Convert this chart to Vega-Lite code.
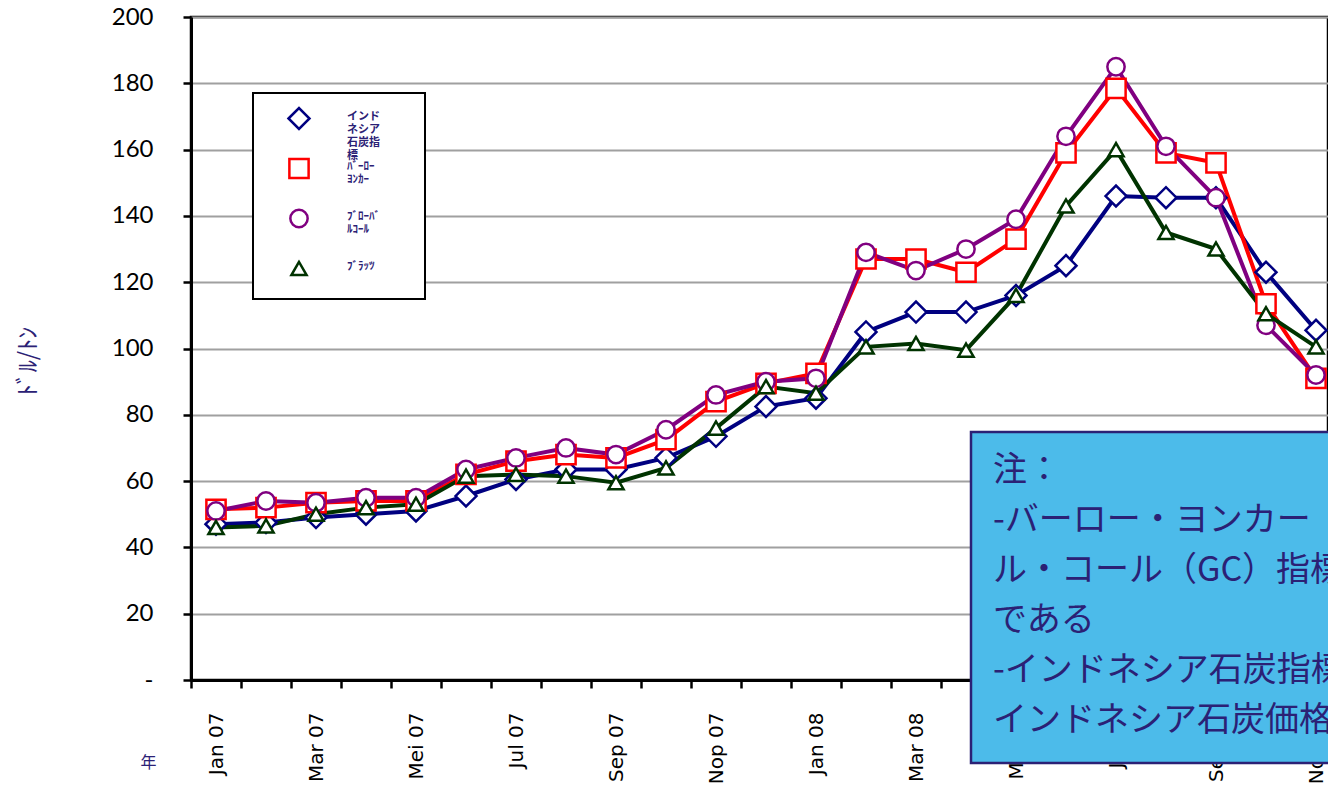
{
  "$schema": "https://vega.github.io/schema/vega-lite/v6.json",
  "width": 1137,
  "height": 663,
  "autosize": {"type": "none"},
  "padding": {"left": 191, "top": 17, "right": 0, "bottom": 116},
  "background": "white",
  "config": {"view": {"stroke": "black", "strokeWidth": 2.5}},
  "datasets": {
    "prices": [
      {"m": "Jan 07", "インドネシア石炭指標": 47, "ﾊﾞｰﾛｰﾖﾝｶｰ": 51.5, "ﾌﾞﾛｰﾊﾞﾙｺｰﾙ": 51, "ﾌﾞﾗｯﾂ": 46},
      {"m": "Feb 07", "インドネシア石炭指標": 47.5, "ﾊﾞｰﾛｰﾖﾝｶｰ": 52, "ﾌﾞﾛｰﾊﾞﾙｺｰﾙ": 54, "ﾌﾞﾗｯﾂ": 46.5},
      {"m": "Mar 07", "インドネシア石炭指標": 49, "ﾊﾞｰﾛｰﾖﾝｶｰ": 53.5, "ﾌﾞﾛｰﾊﾞﾙｺｰﾙ": 53.5, "ﾌﾞﾗｯﾂ": 50},
      {"m": "Apr 07", "インドネシア石炭指標": 50, "ﾊﾞｰﾛｰﾖﾝｶｰ": 54, "ﾌﾞﾛｰﾊﾞﾙｺｰﾙ": 55, "ﾌﾞﾗｯﾂ": 52},
      {"m": "Mei 07", "インドネシア石炭指標": 51, "ﾊﾞｰﾛｰﾖﾝｶｰ": 54, "ﾌﾞﾛｰﾊﾞﾙｺｰﾙ": 55, "ﾌﾞﾗｯﾂ": 53},
      {"m": "Jun 07", "インドネシア石炭指標": 55.5, "ﾊﾞｰﾛｰﾖﾝｶｰ": 62, "ﾌﾞﾛｰﾊﾞﾙｺｰﾙ": 63.5, "ﾌﾞﾗｯﾂ": 61.5},
      {"m": "Jul 07", "インドネシア石炭指標": 60.5, "ﾊﾞｰﾛｰﾖﾝｶｰ": 66, "ﾌﾞﾛｰﾊﾞﾙｺｰﾙ": 67, "ﾌﾞﾗｯﾂ": 62},
      {"m": "Agu 07", "インドネシア石炭指標": 63.5, "ﾊﾞｰﾛｰﾖﾝｶｰ": 68, "ﾌﾞﾛｰﾊﾞﾙｺｰﾙ": 70, "ﾌﾞﾗｯﾂ": 61.5},
      {"m": "Sep 07", "インドネシア石炭指標": 63.5, "ﾊﾞｰﾛｰﾖﾝｶｰ": 67, "ﾌﾞﾛｰﾊﾞﾙｺｰﾙ": 68, "ﾌﾞﾗｯﾂ": 59.5},
      {"m": "Okt 07", "インドネシア石炭指標": 67, "ﾊﾞｰﾛｰﾖﾝｶｰ": 72.5, "ﾌﾞﾛｰﾊﾞﾙｺｰﾙ": 75.5, "ﾌﾞﾗｯﾂ": 64},
      {"m": "Nop 07", "インドネシア石炭指標": 73.5, "ﾊﾞｰﾛｰﾖﾝｶｰ": 84, "ﾌﾞﾛｰﾊﾞﾙｺｰﾙ": 86, "ﾌﾞﾗｯﾂ": 76},
      {"m": "Des 07", "インドネシア石炭指標": 82.5, "ﾊﾞｰﾛｰﾖﾝｶｰ": 89.5, "ﾌﾞﾛｰﾊﾞﾙｺｰﾙ": 90, "ﾌﾞﾗｯﾂ": 88.5},
      {"m": "Jan 08", "インドネシア石炭指標": 85, "ﾊﾞｰﾛｰﾖﾝｶｰ": 92.5, "ﾌﾞﾛｰﾊﾞﾙｺｰﾙ": 91, "ﾌﾞﾗｯﾂ": 86.5},
      {"m": "Feb 08", "インドネシア石炭指標": 105, "ﾊﾞｰﾛｰﾖﾝｶｰ": 127, "ﾌﾞﾛｰﾊﾞﾙｺｰﾙ": 129, "ﾌﾞﾗｯﾂ": 100.5},
      {"m": "Mar 08", "インドネシア石炭指標": 111, "ﾊﾞｰﾛｰﾖﾝｶｰ": 127, "ﾌﾞﾛｰﾊﾞﾙｺｰﾙ": 123.5, "ﾌﾞﾗｯﾂ": 101.5},
      {"m": "Apr 08", "インドネシア石炭指標": 111, "ﾊﾞｰﾛｰﾖﾝｶｰ": 123, "ﾌﾞﾛｰﾊﾞﾙｺｰﾙ": 130, "ﾌﾞﾗｯﾂ": 99.5},
      {"m": "Mei 08", "インドネシア石炭指標": 116, "ﾊﾞｰﾛｰﾖﾝｶｰ": 133, "ﾌﾞﾛｰﾊﾞﾙｺｰﾙ": 139, "ﾌﾞﾗｯﾂ": 116},
      {"m": "Jun 08", "インドネシア石炭指標": 125, "ﾊﾞｰﾛｰﾖﾝｶｰ": 159, "ﾌﾞﾛｰﾊﾞﾙｺｰﾙ": 164, "ﾌﾞﾗｯﾂ": 143},
      {"m": "Jul 08", "インドネシア石炭指標": 146, "ﾊﾞｰﾛｰﾖﾝｶｰ": 178.5, "ﾌﾞﾛｰﾊﾞﾙｺｰﾙ": 185, "ﾌﾞﾗｯﾂ": 160},
      {"m": "Agu 08", "インドネシア石炭指標": 145.5, "ﾊﾞｰﾛｰﾖﾝｶｰ": 159, "ﾌﾞﾛｰﾊﾞﾙｺｰﾙ": 161, "ﾌﾞﾗｯﾂ": 135},
      {"m": "Sep 08", "インドネシア石炭指標": 145.5, "ﾊﾞｰﾛｰﾖﾝｶｰ": 156, "ﾌﾞﾛｰﾊﾞﾙｺｰﾙ": 145.5, "ﾌﾞﾗｯﾂ": 130},
      {"m": "Okt 08", "インドネシア石炭指標": 123, "ﾊﾞｰﾛｰﾖﾝｶｰ": 113.5, "ﾌﾞﾛｰﾊﾞﾙｺｰﾙ": 107, "ﾌﾞﾗｯﾂ": 110.5},
      {"m": "Nop 08", "インドネシア石炭指標": 105.5, "ﾊﾞｰﾛｰﾖﾝｶｰ": 91, "ﾌﾞﾛｰﾊﾞﾙｺｰﾙ": 92, "ﾌﾞﾗｯﾂ": 100.5}
    ],
    "note": [
      {"x": "Apr 08", "x2": "Nop 08", "y": 74.8, "y2": -25, "tx": "Mei 08", "ty": 68.2,
       "lines": ["注：", "-バーロー・ヨンカー（BJ）指標とグローバ", "ル・コール（GC）指標は豪州炭の価格指標", "である", "-インドネシア石炭指標（ICI）は", "インドネシア石炭価格指数である"]}
    ]
  },
  "layer": [
    {
      "data": {"name": "prices"},
      "transform": [{"fold": ["インドネシア石炭指標", "ﾊﾞｰﾛｰﾖﾝｶｰ", "ﾌﾞﾛｰﾊﾞﾙｺｰﾙ", "ﾌﾞﾗｯﾂ"], "as": ["series", "value"]}],
      "mark": {"type": "line", "strokeWidth": 4},
      "encoding": {
        "x": {
          "field": "m", "type": "ordinal",
          "scale": {"type": "band", "domain": ["Jan 07", "Feb 07", "Mar 07", "Apr 07", "Mei 07", "Jun 07", "Jul 07", "Agu 07", "Sep 07", "Okt 07", "Nop 07", "Des 07", "Jan 08", "Feb 08", "Mar 08", "Apr 08", "Mei 08", "Jun 08", "Jul 08", "Agu 08", "Sep 08", "Okt 08", "Nop 08"], "range": [0, 1150], "paddingInner": 0, "paddingOuter": 0},
          "axis": {
            "title": "年", "titleX": -43, "titleY": 82, "titleAngle": 0, "titleAlign": "center", "titleBaseline": "middle",
            "titleFont": "Noto Sans CJK JP", "titleFontSize": 16, "titleColor": "#2b2175", "titleFontWeight": "normal",
            "labelAngle": -90, "labelFont": "DejaVu Sans", "labelFontSize": 20, "labelColor": "black", "labelPadding": 24,
            "labelOverlap": false, "labelBound": false,
            "labelExpr": "test(/^(Feb|Apr|Jun|Agu|Okt|Des)/, datum.label) ? '' : datum.label",
            "tickSize": 8, "tickWidth": 2.5, "tickColor": "black", "tickBand": "extent",
            "domainColor": "black", "domainWidth": 3, "grid": false
          }
        },
        "y": {
          "field": "value", "type": "quantitative",
          "scale": {"domain": [0, 200]},
          "axis": {
            "values": [0, 20, 40, 60, 80, 100, 120, 140, 160, 180, 200],
            "labelExpr": "datum.value == 0 ? '-' : datum.label",
            "labelFont": "Lato", "labelFontSize": 24, "labelColor": "black", "labelPadding": 30,
            "tickSize": 8, "tickWidth": 2.5, "tickColor": "black",
            "domainColor": "black", "domainWidth": 3,
            "grid": true, "gridColor": "#a0a0a0", "gridWidth": 2,
            "title": "ﾄﾞﾙ/ﾄﾝ", "titleFont": "Noto Sans CJK JP", "titleFontSize": 24, "titleColor": "#2b2175", "titleFontWeight": "normal",
            "titleX": -163, "titleY": 344, "titleAngle": -90, "titleAlign": "center", "titleBaseline": "middle"
          }
        },
        "color": {
          "field": "series", "type": "nominal",
          "scale": {"domain": ["インドネシア石炭指標", "ﾊﾞｰﾛｰﾖﾝｶｰ", "ﾌﾞﾛｰﾊﾞﾙｺｰﾙ", "ﾌﾞﾗｯﾂ"], "range": ["#000080", "#ff0000", "#800080", "#003300"]},
          "legend": {
            "orient": "none", "legendX": 62, "legendY": 76,
            "title": "WW", "titleOrient": "right", "titleOpacity": 0, "titleFontSize": 11, "titlePadding": 6,
            "fillColor": "white", "strokeColor": "black", "padding": 18,
            "labelFont": "Noto Sans CJK JP", "labelFontSize": 11, "labelColor": "#2b2175", "labelFontWeight": "bold",
            "labelBaseline": "top", "rowPadding": -9,
            "labelExpr": "datum.label == 'インドネシア石炭指標' ? ['インド','ネシア','石炭指','標'] : datum.label == 'ﾊﾞｰﾛｰﾖﾝｶｰ' ? ['ﾊﾞｰﾛｰ','ﾖﾝｶｰ','',''] : datum.label == 'ﾌﾞﾛｰﾊﾞﾙｺｰﾙ' ? ['ﾌﾞﾛｰﾊﾞ','ﾙｺｰﾙ','',''] : datum.label",
            "encode": {
              "symbols": {"update": {
                "x": {"value": 28}, "y": {"value": 7.5},
                "fill": {"value": "white"}, "fillOpacity": {"value": 1},
                "stroke": {"scale": "color", "field": "value"}, "strokeWidth": {"value": 2.5}, "opacity": {"value": 1}
              }},
              "labels": {"update": {"x": {"value": 76}, "y": {"value": 7.5}, "dy": {"value": -7.5}, "lineHeight": {"value": 13}}},
              "legend": {"update": {"strokeWidth": {"value": 2}}}
            }
          }
        }
      }
    },
    {
      "data": {"name": "prices"},
      "transform": [{"fold": ["インドネシア石炭指標", "ﾊﾞｰﾛｰﾖﾝｶｰ", "ﾌﾞﾛｰﾊﾞﾙｺｰﾙ", "ﾌﾞﾗｯﾂ"], "as": ["s", "value"]}],
      "mark": {"type": "point", "filled": true, "fill": "white", "strokeWidth": 2.5, "opacity": 1},
      "encoding": {
        "x": {"field": "m", "type": "ordinal"},
        "y": {"field": "value", "type": "quantitative"},
        "stroke": {
          "field": "s", "type": "nominal",
          "scale": {"domain": ["インドネシア石炭指標", "ﾊﾞｰﾛｰﾖﾝｶｰ", "ﾌﾞﾛｰﾊﾞﾙｺｰﾙ", "ﾌﾞﾗｯﾂ", "_"], "range": ["#000080", "#ff0000", "#800080", "#003300", "#ffffff"]},
          "legend": null
        },
        "shape": {
          "field": "s", "type": "nominal",
          "scale": {"domain": ["インドネシア石炭指標", "ﾊﾞｰﾛｰﾖﾝｶｰ", "ﾌﾞﾛｰﾊﾞﾙｺｰﾙ", "ﾌﾞﾗｯﾂ"], "range": ["diamond", "square", "circle", "triangle-up"]},
          "legend": null
        },
        "size": {
          "field": "s", "type": "nominal",
          "scale": {"domain": ["インドネシア石炭指標", "ﾊﾞｰﾛｰﾖﾝｶｰ", "ﾌﾞﾛｰﾊﾞﾙｺｰﾙ", "ﾌﾞﾗｯﾂ"], "range": [440, 230, 420, 260]},
          "legend": null
        }
      }
    },
    {
      "data": {"name": "note"},
      "mark": {"type": "rect", "fill": "#4cbbea", "stroke": "#2b2175", "strokeWidth": 2.5},
      "encoding": {
        "x": {"field": "x", "type": "ordinal", "bandPosition": 0.6},
        "x2": {"field": "x2", "bandPosition": 1},
        "y": {"field": "y", "type": "quantitative"},
        "y2": {"field": "y2"}
      }
    },
    {
      "data": {"name": "note"},
      "mark": {"type": "text", "align": "left", "baseline": "top", "font": "Noto Sans CJK JP", "fontSize": 34, "lineHeight": 50, "color": "#2b2175"},
      "encoding": {
        "x": {"field": "tx", "type": "ordinal", "bandPosition": 0.04},
        "y": {"field": "ty", "type": "quantitative"},
        "text": {"field": "lines"}
      }
    }
  ]
}
